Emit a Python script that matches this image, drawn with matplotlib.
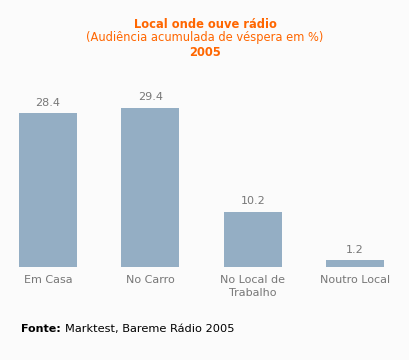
import matplotlib
matplotlib.use("Agg")
import matplotlib.pyplot as plt

categories = ["Em Casa", "No Carro", "No Local de\nTrabalho", "Noutro Local"]
values = [28.4, 29.4, 10.2, 1.2]

W, H = 410, 360
fig = plt.figure(figsize=(W / 100, H / 100), dpi=100, facecolor="#fbfbfb")

# axes spans full width; baseline at pixel row 267
base = 267
px_per_unit = 5.42
ax = fig.add_axes([0, (H - base) / H, 1, base / H])
ax.set_facecolor("#fbfbfb")
x0, step = 48, 102.4
ax.set_xlim(-x0 / step, (W - x0) / step)
ax.set_ylim(0, base / px_per_unit)
xs = list(range(len(values)))
ax.bar(xs, values, width=58 / step, color="#94aec4")
for x, v in zip(xs, values):
    ax.annotate(f"{v:.1f}", (x, v), xytext=(0, 4), textcoords="offset points",
                ha="center", va="bottom", fontsize=8, color="#777777")
ax.axis("off")

for x, c in zip(xs, categories):
    fx = (x0 + step * x) / W
    fig.text(fx, 1 - 275 / H, c, ha="center", va="top", fontsize=8,
             color="#777777", linespacing=1.4)

orange = "#ff6600"
fig.text(0.5, 1 - 24 / H, "Local onde ouve rádio", ha="center", va="center",
         fontsize=8.3, fontweight="bold", color=orange)
fig.text(0.5, 1 - 38 / H, "(Audiência acumulada de véspera em %)", ha="center",
         va="center", fontsize=8.3, color=orange)
fig.text(0.5, 1 - 52 / H, "2005", ha="center", va="center",
         fontsize=8.3, fontweight="bold", color=orange)

fig.text(21 / W, 1 - 329 / H, "Fonte:", ha="left", va="center",
         fontsize=8, fontweight="bold", color="black")
fig.text(65 / W, 1 - 329 / H, "Marktest, Bareme Rádio 2005", ha="left",
         va="center", fontsize=8.2, color="black")

fig.savefig("out.png", dpi=100, facecolor=fig.get_facecolor())
